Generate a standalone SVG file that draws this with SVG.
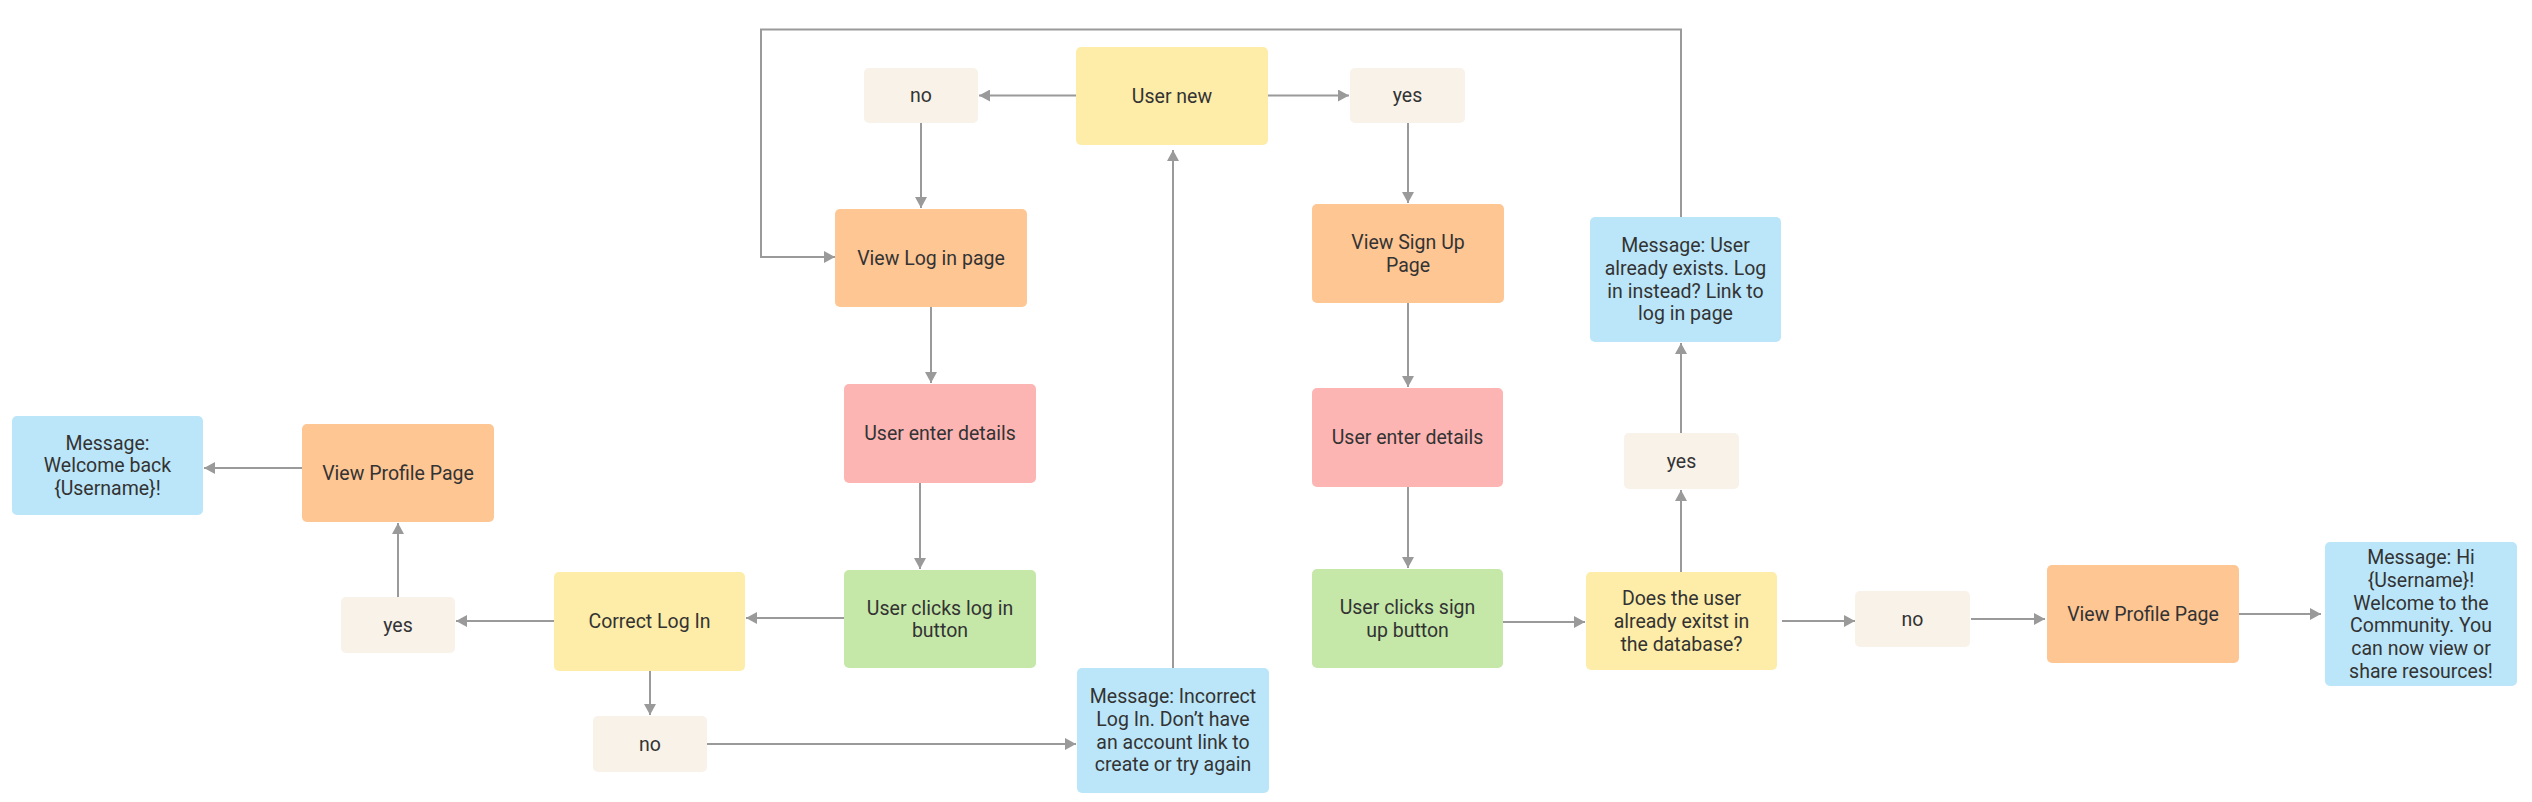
<svg xmlns="http://www.w3.org/2000/svg" width="2532" height="802" viewBox="0 0 2532 802">
<style>
.box{stroke:none}
.cream{fill:#F8F2E9}
.yellow{fill:#FEEDA8}
.orange{fill:#FEC693}
.pink{fill:#FDB5B3}
.green{fill:#C5E8A9}
.blue{fill:#BBE6F9}
text{font-family:Roboto,"Liberation Sans",Arial,sans-serif;font-size:19.5px;fill:#333333;text-anchor:middle}
.conn{fill:none;stroke:#9A9A9A;stroke-width:2}
</style>
<defs>
<marker id="ah" markerUnits="userSpaceOnUse" markerWidth="12" markerHeight="12" refX="11" refY="6" orient="auto">
<path d="M0,0 L11,6 L0,12 z" fill="#9A9A9A"/>
</marker>
</defs>
<rect width="2532" height="802" fill="#FFFFFF"/>
<g id="connectors">
<path class="conn" marker-end="url(#ah)" d="M1076,95.5 L979,95.5"/>
<path class="conn" marker-end="url(#ah)" d="M1268,95.5 L1349,95.5"/>
<path class="conn" marker-end="url(#ah)" d="M921,123 L921,208"/>
<path class="conn" marker-end="url(#ah)" d="M1408,123 L1408,203"/>
<path class="conn" marker-end="url(#ah)" d="M931,307 L931,383"/>
<path class="conn" marker-end="url(#ah)" d="M1408,303 L1408,387"/>
<path class="conn" marker-end="url(#ah)" d="M920,483 L920,569"/>
<path class="conn" marker-end="url(#ah)" d="M1408,487 L1408,568"/>
<path class="conn" marker-end="url(#ah)" d="M844,618 L746,618"/>
<path class="conn" marker-end="url(#ah)" d="M554,621 L456,621"/>
<path class="conn" marker-end="url(#ah)" d="M398,597 L398,523"/>
<path class="conn" marker-end="url(#ah)" d="M302,468 L204,468"/>
<path class="conn" marker-end="url(#ah)" d="M650,671 L650,715"/>
<path class="conn" marker-end="url(#ah)" d="M707,744 L1076,744"/>
<path class="conn" marker-end="url(#ah)" d="M1173,668 L1173,150"/>
<path class="conn" marker-end="url(#ah)" d="M1503,622 L1585,622"/>
<path class="conn" marker-end="url(#ah)" d="M1681,572 L1681,490"/>
<path class="conn" marker-end="url(#ah)" d="M1681,433 L1681,343"/>
<path class="conn" marker-end="url(#ah)" d="M1681,217 L1681,29.5 L761,29.5 L761,257 L835,257"/>
<path class="conn" marker-end="url(#ah)" d="M1782,621 L1855,621"/>
<path class="conn" marker-end="url(#ah)" d="M1971,619 L2045,619"/>
<path class="conn" marker-end="url(#ah)" d="M2239,614 L2321,614"/>
</g>
<g id="no_top"><rect class="box cream" x="864" y="68" width="114" height="55" rx="5"/><text x="921" y="102.3">no</text></g>
<g id="user_new"><rect class="box yellow" x="1076" y="47" width="192" height="98" rx="5"/><text x="1172" y="102.8">User new</text></g>
<g id="yes_top"><rect class="box cream" x="1350" y="68" width="115" height="55" rx="5"/><text x="1407.5" y="102.3">yes</text></g>
<g id="view_login"><rect class="box orange" x="835" y="209" width="192" height="98" rx="5"/><text x="931" y="264.8">View Log in page</text></g>
<g id="view_signup"><rect class="box orange" x="1312" y="204" width="192" height="99" rx="5"/><text x="1408" y="249">View Sign Up</text><text x="1408" y="271.7">Page</text></g>
<g id="msg_exists"><rect class="box blue" x="1590" y="217" width="191" height="125" rx="5"/><text x="1685.5" y="252.3">Message: User</text><text x="1685.5" y="275">already exists. Log</text><text x="1685.5" y="297.7">in instead? Link to</text><text x="1685.5" y="320.4">log in page</text></g>
<g id="enter_left"><rect class="box pink" x="844" y="384" width="192" height="99" rx="5"/><text x="940" y="440.3">User enter details</text></g>
<g id="enter_right"><rect class="box pink" x="1312" y="388" width="191" height="99" rx="5"/><text x="1407.5" y="444.3">User enter details</text></g>
<g id="yes_right"><rect class="box cream" x="1624" y="433" width="115" height="56" rx="5"/><text x="1681.5" y="467.8">yes</text></g>
<g id="msg_welcome"><rect class="box blue" x="12" y="416" width="191" height="99" rx="5"/><text x="107.5" y="449.6">Message:</text><text x="107.5" y="472.3">Welcome back</text><text x="107.5" y="495">{Username}!</text></g>
<g id="profile_left"><rect class="box orange" x="302" y="424" width="192" height="98" rx="5"/><text x="398" y="479.8">View Profile Page</text></g>
<g id="yes_left"><rect class="box cream" x="341" y="597" width="114" height="56" rx="5"/><text x="398" y="631.8">yes</text></g>
<g id="correct_login"><rect class="box yellow" x="554" y="572" width="191" height="99" rx="5"/><text x="649.5" y="628.3">Correct Log In</text></g>
<g id="clicks_login"><rect class="box green" x="844" y="570" width="192" height="98" rx="5"/><text x="940" y="614.5">User clicks log in</text><text x="940" y="637.2">button</text></g>
<g id="no_bottom"><rect class="box cream" x="593" y="716" width="114" height="56" rx="5"/><text x="650" y="750.8">no</text></g>
<g id="msg_incorrect"><rect class="box blue" x="1077" y="668" width="192" height="125" rx="5"/><text x="1173" y="703.3">Message: Incorrect</text><text x="1173" y="726">Log In. Don’t have</text><text x="1173" y="748.7">an account link to</text><text x="1173" y="771.4">create or try again</text></g>
<g id="clicks_signup"><rect class="box green" x="1312" y="569" width="191" height="99" rx="5"/><text x="1407.5" y="614">User clicks sign</text><text x="1407.5" y="636.7">up button</text></g>
<g id="does_exist"><rect class="box yellow" x="1586" y="572" width="191" height="98" rx="5"/><text x="1681.5" y="605.1">Does the user</text><text x="1681.5" y="627.8">already exitst in</text><text x="1681.5" y="650.5">the database?</text></g>
<g id="no_right"><rect class="box cream" x="1855" y="591" width="115" height="56" rx="5"/><text x="1912.5" y="625.8">no</text></g>
<g id="profile_right"><rect class="box orange" x="2047" y="565" width="192" height="98" rx="5"/><text x="2143" y="620.8">View Profile Page</text></g>
<g id="msg_hi"><rect class="box blue" x="2325" y="542" width="192" height="144" rx="5"/><text x="2421" y="564.1">Message: Hi</text><text x="2421" y="586.8">{Username}!</text><text x="2421" y="609.5">Welcome to the</text><text x="2421" y="632.2">Community. You</text><text x="2421" y="654.9">can now view or</text><text x="2421" y="677.6">share resources!</text></g>
</svg>
